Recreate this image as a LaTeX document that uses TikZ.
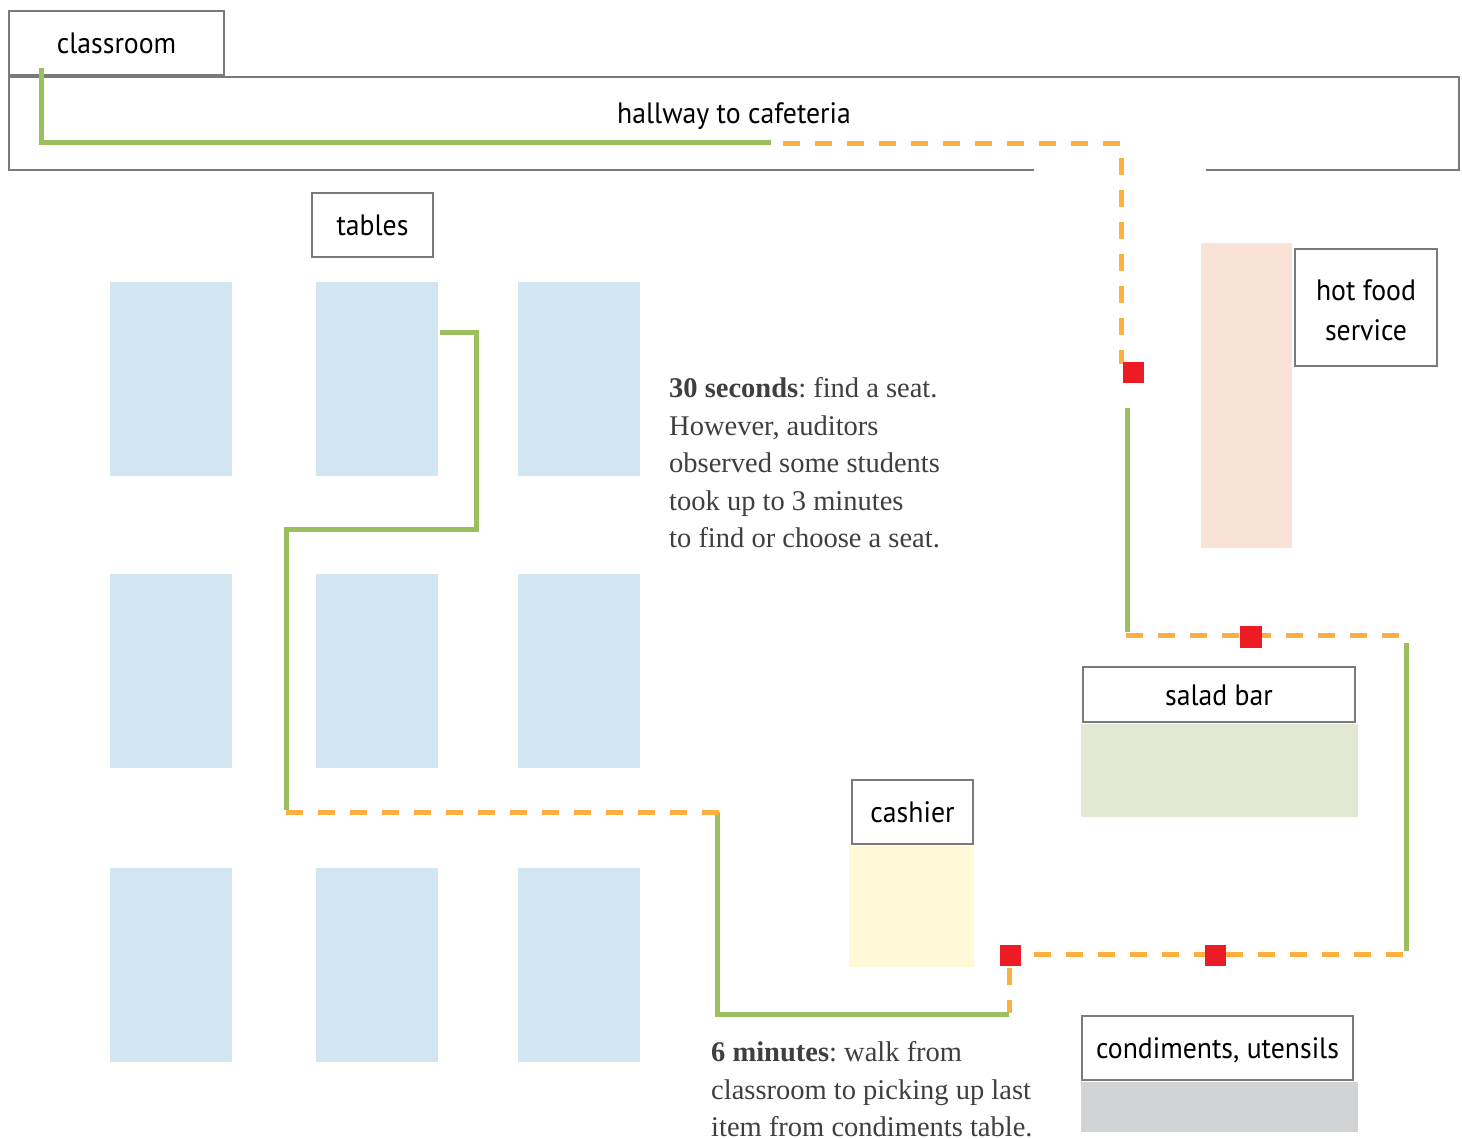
\documentclass[tikz,border=0pt]{standalone}
\usepackage{fontspec}
\setmainfont{Liberation Serif}
\newfontfamily\labelfont[FakeStretch=0.94]{PT Sans}
\definecolor{tableblue}{HTML}{D1E6F1}
\definecolor{hotpink}{HTML}{FAE2D6}
\definecolor{saladgreen}{HTML}{E3E8D5}
\definecolor{cashyellow}{HTML}{FFF9D7}
\definecolor{condgray}{HTML}{D2D3D5}
\definecolor{pathgreen}{HTML}{9BBF5F}
\definecolor{pathorange}{HTML}{FBB040}
\definecolor{stopred}{HTML}{ED1C24}
\definecolor{notegray}{HTML}{3F3F3F}
\definecolor{boxgray}{HTML}{7A7A7A}
\frenchspacing
\begin{document}
\begin{tikzpicture}[x=1pt,y=-1pt,
  labelbox/.style={draw=boxgray, line width=1.4pt, fill=white, inner sep=0pt,
    align=center, text=black, text height=21pt, text depth=0pt,
    font=\labelfont\fontsize{29.5}{40}\selectfont},
  walkgreen/.style={draw=pathgreen, line width=5pt},
  walkorange/.style={draw=pathorange, line width=5pt, dash pattern=on 17pt off 15pt},
  stop/.style={fill=stopred, draw=none, inner sep=0pt, minimum size=21pt},
  note/.style={inner sep=0pt, align=left, text=notegray, anchor=north west,
    font=\fontsize{28.5}{37.5}\selectfont}]
\useasboundingbox (0,0) rectangle (1462,1139);
\fill[white] (0,0) rectangle (1462,1139);

% tables
\foreach \cx in {110,316,518}{
  \foreach \ry in {282,574,868}{
    \fill[tableblue] (\cx,\ry) rectangle ++(122,194);
  }
}

% service areas
\fill[hotpink] (1201,243) rectangle (1292,548);
\fill[saladgreen] (1081,724) rectangle (1358,817);
\fill[cashyellow] (849,846) rectangle (974,967);
\fill[condgray] (1081,1082) rectangle (1358,1132);

% hallway outline with door gap
\draw[boxgray, line width=1.4pt] (1034,170) -- (9,170) -- (9,77) -- (1459,77) -- (1459,170) -- (1206,170);
\node[inner sep=0pt, text=black, text height=21pt, text depth=0pt,
  font=\labelfont\fontsize{29.5}{34}\selectfont] (hall) at (734,113) {hallway to cafeteria};

% label boxes
\node[labelbox, minimum width=215pt, minimum height=64pt] (classroom) at (116.5,43) {classroom};
\node[labelbox, minimum width=121pt, minimum height=64pt] (tables) at (372.5,225) {tables};
\node[labelbox, minimum width=142pt, minimum height=117pt, text height=67pt] (hotfood) at (1366,307.5) {hot food\\service};
\node[labelbox, minimum width=272pt, minimum height=55pt] (salad) at (1219,694.5) {salad bar};
\node[labelbox, minimum width=121pt, minimum height=64pt] (cashier) at (912.5,812) {cashier};
\node[labelbox, minimum width=271pt, minimum height=64pt] (condiments) at (1217.5,1048) {condiments, utensils};

% route coordinates
\coordinate (p1) at (41,68);
\coordinate (p2) at (41,143);
\coordinate (p3) at (771,143);
\coordinate (p4) at (783,144);
\coordinate (p5) at (1121,144);
\coordinate (p6) at (1121,364);
\coordinate (p7) at (1127,408);
\coordinate (p8) at (1127,632);
\coordinate (p9) at (1126,635);
\coordinate (p10) at (1401,635);
\coordinate (p11) at (1406,643);
\coordinate (p12) at (1406,951);
\coordinate (p13) at (1403,954);
\coordinate (p14) at (1030,954);
\coordinate (p15) at (1009,968);
\coordinate (p16) at (1009,1013);
\coordinate (p17) at (1009,1014);
\coordinate (p18) at (717,1014);
\coordinate (p19) at (717,812);
\coordinate (p20) at (719,812);
\coordinate (p21) at (286,812);
\coordinate (p22) at (286,810);
\coordinate (p23) at (286,529);
\coordinate (p24) at (476,529);
\coordinate (p25) at (476,333);
\coordinate (p26) at (440,333);

% route
\draw[walkgreen] (p1) -- (p2) -- (p3);
\draw[walkorange] (p4) -- (p5) -- (p6);
\draw[walkgreen] (p7) -- (p8);
\draw[walkorange] (p9) -- (p10);
\draw[walkgreen] (p11) -- (p12);
\draw[walkorange] (p13) -- (p14);
\draw[walkorange] (p15) -- (p16);
\draw[walkgreen] (p17) -- (p18) -- (p19);
\draw[walkorange] (p20) -- (p21);
\draw[walkgreen] (p22) -- (p23) -- (p24) -- (p25) -- (p26);

% stops
\node[stop] (s1) at (1133,373) {};
\node[stop, minimum size=22pt] (s2) at (1251,637) {};
\node[stop] (s3) at (1215,955) {};
\node[stop] (s4) at (1010,955) {};

% notes
\node[note] (note1) at (669,377.5) {\textbf{30 seconds}: find a seat.\\However, auditors\\observed some students\\took up to 3 minutes\\to find or choose a seat.};
\node[note] (note2) at (711,1041.5) {\textbf{6 minutes}: walk from\\classroom to picking up last\\item from condiments table.};
\end{tikzpicture}
\end{document}
